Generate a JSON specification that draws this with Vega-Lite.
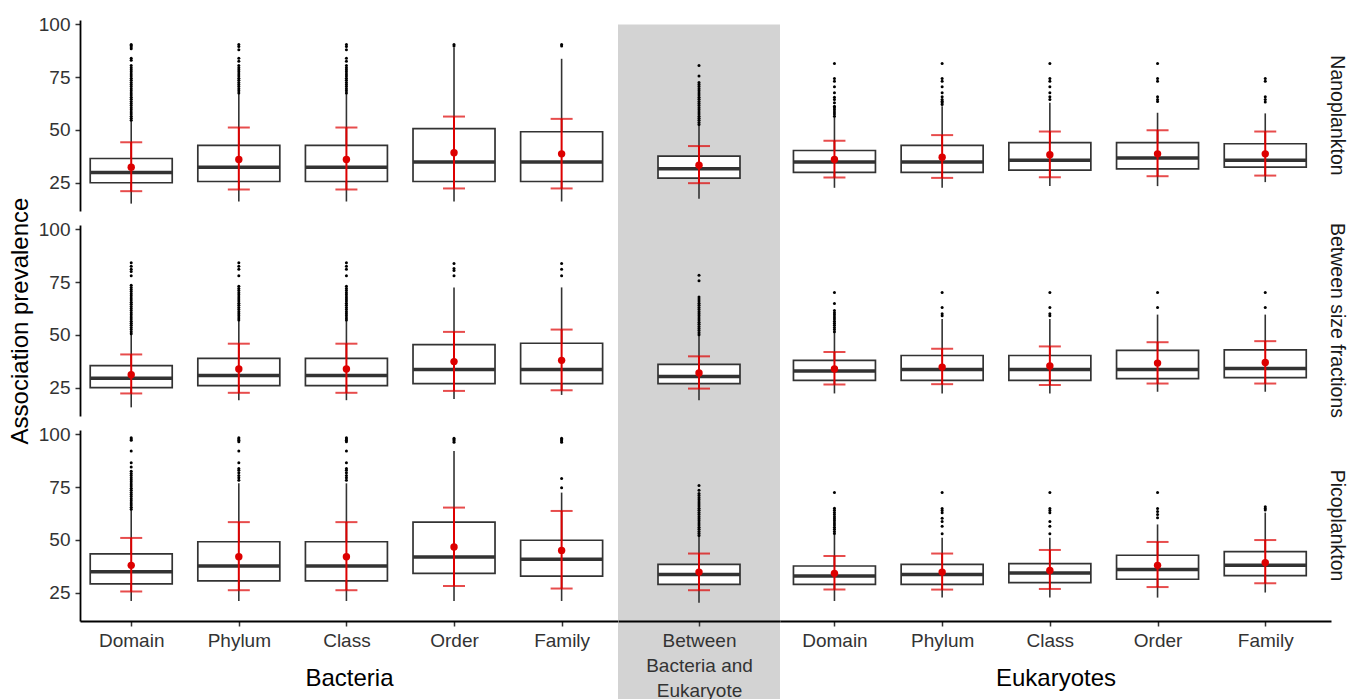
{
"$schema":"https://vega.github.io/schema/vega-lite/v6.json",
"background":"white",
"padding":{"left":8,"top":15,"right":0,"bottom":0},
"config":{
 "font":"Liberation Sans",
 "view":{"stroke":null},
 "axis":{"labelFont":"Liberation Sans","titleFont":"Liberation Sans","labelFontSize":19,"titleFontSize":24,"titleFontWeight":"normal","labelColor":"#333333","titleColor":"#000000","domainColor":"#000000","domainWidth":1.8,"tickColor":"#333333","tickWidth":1.5,"tickSize":5,"grid":false,"labelPadding":5},
 "title":{"font":"Liberation Sans","fontSize":19.5,"fontWeight":"normal","color":"#1a1a1a"}
},
"datasets":{
 "bN":[
  {"f":"Nanoplankton","g":"Bacteria","l":"Domain","lo":15.0,"q1":24.9,"med":29.8,"q3":36.4,"hi":54.1,"mean":32.3,"sdlo":20.9,"sdhi":44.1},
  {"f":"Nanoplankton","g":"Bacteria","l":"Phylum","lo":16.0,"q1":25.5,"med":32.3,"q3":42.6,"hi":67.3,"mean":35.9,"sdlo":21.7,"sdhi":51.1},
  {"f":"Nanoplankton","g":"Bacteria","l":"Class","lo":16.0,"q1":25.5,"med":32.3,"q3":42.6,"hi":67.3,"mean":35.9,"sdlo":21.7,"sdhi":51.1},
  {"f":"Nanoplankton","g":"Bacteria","l":"Order","lo":16.0,"q1":25.5,"med":34.7,"q3":50.6,"hi":89.0,"mean":39.1,"sdlo":22.2,"sdhi":56.3},
  {"f":"Nanoplankton","g":"Bacteria","l":"Family","lo":16.0,"q1":25.5,"med":34.7,"q3":49.1,"hi":83.7,"mean":38.6,"sdlo":22.2,"sdhi":55.2}
 ],
 "mN":[
  {"f":"Nanoplankton","g":"Between","l":"Between","lo":17.3,"q1":27.1,"med":31.5,"q3":37.5,"hi":52.4,"mean":33.2,"sdlo":24.7,"sdhi":42.3}
 ],
 "eN":[
  {"f":"Nanoplankton","g":"Eukaryotes","l":"Domain","lo":22.5,"q1":29.8,"med":34.8,"q3":40.2,"hi":56.0,"mean":35.9,"sdlo":27.4,"sdhi":44.8},
  {"f":"Nanoplankton","g":"Eukaryotes","l":"Phylum","lo":22.5,"q1":29.8,"med":34.8,"q3":42.6,"hi":61.2,"mean":37.0,"sdlo":27.2,"sdhi":47.5},
  {"f":"Nanoplankton","g":"Eukaryotes","l":"Class","lo":23.3,"q1":30.9,"med":35.6,"q3":43.9,"hi":62.8,"mean":38.2,"sdlo":27.5,"sdhi":49.2},
  {"f":"Nanoplankton","g":"Eukaryotes","l":"Order","lo":23.3,"q1":31.5,"med":36.6,"q3":43.9,"hi":58.1,"mean":38.6,"sdlo":28.0,"sdhi":49.8},
  {"f":"Nanoplankton","g":"Eukaryotes","l":"Family","lo":25.2,"q1":32.3,"med":35.6,"q3":43.4,"hi":57.8,"mean":38.6,"sdlo":28.3,"sdhi":49.2}
 ],
 "bS":[
  {"f":"Between size fractions","g":"Bacteria","l":"Domain","lo":15.6,"q1":25.0,"med":29.4,"q3":35.4,"hi":50.1,"mean":31.1,"sdlo":22.2,"sdhi":40.7},
  {"f":"Between size fractions","g":"Bacteria","l":"Phylum","lo":19.0,"q1":25.9,"med":30.7,"q3":38.8,"hi":56.7,"mean":33.8,"sdlo":22.5,"sdhi":45.8},
  {"f":"Between size fractions","g":"Bacteria","l":"Class","lo":19.0,"q1":25.9,"med":30.7,"q3":38.8,"hi":56.7,"mean":33.8,"sdlo":22.5,"sdhi":45.8},
  {"f":"Between size fractions","g":"Bacteria","l":"Order","lo":19.6,"q1":26.9,"med":33.5,"q3":45.4,"hi":72.5,"mean":37.3,"sdlo":23.4,"sdhi":51.4},
  {"f":"Between size fractions","g":"Bacteria","l":"Family","lo":21.5,"q1":26.9,"med":33.5,"q3":46.0,"hi":72.5,"mean":37.9,"sdlo":23.7,"sdhi":52.5}
 ],
 "mS":[
  {"f":"Between size fractions","g":"Between","l":"Between","lo":19.0,"q1":26.9,"med":30.2,"q3":36.0,"hi":49.7,"mean":31.9,"sdlo":24.5,"sdhi":39.8}
 ],
 "eS":[
  {"f":"Between size fractions","g":"Eukaryotes","l":"Domain","lo":22.2,"q1":28.4,"med":32.8,"q3":37.9,"hi":51.2,"mean":33.8,"sdlo":26.4,"sdhi":41.8},
  {"f":"Between size fractions","g":"Eukaryotes","l":"Phylum","lo":22.2,"q1":28.4,"med":33.6,"q3":40.2,"hi":57.5,"mean":34.7,"sdlo":26.6,"sdhi":43.4},
  {"f":"Between size fractions","g":"Eukaryotes","l":"Class","lo":22.2,"q1":28.4,"med":33.6,"q3":40.2,"hi":57.5,"mean":35.2,"sdlo":26.2,"sdhi":44.5},
  {"f":"Between size fractions","g":"Eukaryotes","l":"Order","lo":23.0,"q1":29.2,"med":33.6,"q3":42.6,"hi":59.6,"mean":36.6,"sdlo":26.9,"sdhi":46.5},
  {"f":"Between size fractions","g":"Eukaryotes","l":"Family","lo":23.0,"q1":29.7,"med":34.0,"q3":42.9,"hi":59.6,"mean":36.9,"sdlo":26.9,"sdhi":47.0}
 ],
 "bP":[
  {"f":"Picoplankton","g":"Bacteria","l":"Domain","lo":21.0,"q1":29.1,"med":34.9,"q3":43.3,"hi":64.1,"mean":37.9,"sdlo":25.5,"sdhi":50.9},
  {"f":"Picoplankton","g":"Bacteria","l":"Phylum","lo":21.0,"q1":30.5,"med":37.6,"q3":49.1,"hi":76.8,"mean":42.0,"sdlo":26.1,"sdhi":58.4},
  {"f":"Picoplankton","g":"Bacteria","l":"Class","lo":21.0,"q1":30.5,"med":37.6,"q3":49.1,"hi":76.8,"mean":42.0,"sdlo":26.1,"sdhi":58.4},
  {"f":"Picoplankton","g":"Bacteria","l":"Order","lo":21.0,"q1":34.1,"med":41.9,"q3":58.4,"hi":92.1,"mean":46.6,"sdlo":28.1,"sdhi":65.3},
  {"f":"Picoplankton","g":"Bacteria","l":"Family","lo":21.0,"q1":32.8,"med":40.8,"q3":49.8,"hi":72.4,"mean":45.0,"sdlo":26.9,"sdhi":63.7}
 ],
 "mP":[
  {"f":"Picoplankton","g":"Between","l":"Between","lo":20.2,"q1":28.9,"med":33.6,"q3":38.4,"hi":51.8,"mean":34.7,"sdlo":26.1,"sdhi":43.5}
 ],
 "eP":[
  {"f":"Picoplankton","g":"Eukaryotes","l":"Domain","lo":21.0,"q1":28.9,"med":32.8,"q3":37.6,"hi":52.6,"mean":34.1,"sdlo":26.5,"sdhi":42.3},
  {"f":"Picoplankton","g":"Eukaryotes","l":"Phylum","lo":22.6,"q1":28.9,"med":33.5,"q3":38.4,"hi":51.0,"mean":34.7,"sdlo":26.4,"sdhi":43.5},
  {"f":"Picoplankton","g":"Eukaryotes","l":"Class","lo":22.6,"q1":29.7,"med":34.3,"q3":38.7,"hi":51.0,"mean":35.5,"sdlo":26.7,"sdhi":45.2},
  {"f":"Picoplankton","g":"Eukaryotes","l":"Order","lo":22.6,"q1":31.3,"med":35.9,"q3":42.7,"hi":57.3,"mean":37.9,"sdlo":27.6,"sdhi":49.0},
  {"f":"Picoplankton","g":"Eukaryotes","l":"Family","lo":25.0,"q1":33.0,"med":37.9,"q3":44.4,"hi":62.9,"mean":39.2,"sdlo":29.4,"sdhi":49.9}
 ],
 "obN":[
  {"l":"Domain","v":54.5},{"l":"Domain","v":55.5},{"l":"Domain","v":56.5},{"l":"Domain","v":57.5},{"l":"Domain","v":58.5},{"l":"Domain","v":59.5},{"l":"Domain","v":60.5},{"l":"Domain","v":61.5},{"l":"Domain","v":62.5},{"l":"Domain","v":63.5},{"l":"Domain","v":64.5},{"l":"Domain","v":65.5},{"l":"Domain","v":66.5},{"l":"Domain","v":67.5},{"l":"Domain","v":68.5},{"l":"Domain","v":69.5},{"l":"Domain","v":70.5},{"l":"Domain","v":71.5},{"l":"Domain","v":72.5},{"l":"Domain","v":73.5},{"l":"Domain","v":74.5},{"l":"Domain","v":75.5},{"l":"Domain","v":76.5},{"l":"Domain","v":77.5},{"l":"Domain","v":78.5},{"l":"Domain","v":79.5},{"l":"Domain","v":80.5},{"l":"Domain","v":83},{"l":"Domain","v":84},{"l":"Domain","v":88.5},{"l":"Domain","v":89.3},{"l":"Domain","v":90},{"l":"Domain","v":90.5},
  {"l":"Phylum","v":67.5},{"l":"Phylum","v":68.5},{"l":"Phylum","v":69.5},{"l":"Phylum","v":70.5},{"l":"Phylum","v":71.5},{"l":"Phylum","v":72.5},{"l":"Phylum","v":73.5},{"l":"Phylum","v":74.5},{"l":"Phylum","v":75.5},{"l":"Phylum","v":76.5},{"l":"Phylum","v":77.5},{"l":"Phylum","v":78.5},{"l":"Phylum","v":79.5},{"l":"Phylum","v":80.5},{"l":"Phylum","v":82.5},{"l":"Phylum","v":84},{"l":"Phylum","v":88},{"l":"Phylum","v":89.5},{"l":"Phylum","v":90.5},
  {"l":"Class","v":67.5},{"l":"Class","v":68.5},{"l":"Class","v":69.5},{"l":"Class","v":70.5},{"l":"Class","v":71.5},{"l":"Class","v":72.5},{"l":"Class","v":73.5},{"l":"Class","v":74.5},{"l":"Class","v":75.5},{"l":"Class","v":76.5},{"l":"Class","v":77.5},{"l":"Class","v":78.5},{"l":"Class","v":79.5},{"l":"Class","v":80.5},{"l":"Class","v":82.5},{"l":"Class","v":84},{"l":"Class","v":88},{"l":"Class","v":89.5},{"l":"Class","v":90.5},
  {"l":"Order","v":89.8},{"l":"Order","v":90.5},
  {"l":"Family","v":89.8},{"l":"Family","v":90.5}
 ],
 "omN":[
  {"l":"Between","v":52.5},{"l":"Between","v":53.5},{"l":"Between","v":54.5},{"l":"Between","v":55.5},{"l":"Between","v":56.5},{"l":"Between","v":57.5},{"l":"Between","v":58.5},{"l":"Between","v":59.5},{"l":"Between","v":60.5},{"l":"Between","v":61.5},{"l":"Between","v":62.5},{"l":"Between","v":63.5},{"l":"Between","v":64.5},{"l":"Between","v":65.5},{"l":"Between","v":66.5},{"l":"Between","v":67.5},{"l":"Between","v":68.5},{"l":"Between","v":69.5},{"l":"Between","v":70.5},{"l":"Between","v":71.5},{"l":"Between","v":72.5},{"l":"Between","v":75.5},{"l":"Between","v":80.5}
 ],
 "oeN":[
  {"l":"Domain","v":56.5},{"l":"Domain","v":57.5},{"l":"Domain","v":58.5},{"l":"Domain","v":59.5},{"l":"Domain","v":60.5},{"l":"Domain","v":61.2},{"l":"Domain","v":62.8},{"l":"Domain","v":64.4},{"l":"Domain","v":65.5},{"l":"Domain","v":67.6},{"l":"Domain","v":70.4},{"l":"Domain","v":73.1},{"l":"Domain","v":74.4},{"l":"Domain","v":81.5},
  {"l":"Phylum","v":62},{"l":"Phylum","v":62.8},{"l":"Phylum","v":63.6},{"l":"Phylum","v":64.4},{"l":"Phylum","v":65.7},{"l":"Phylum","v":67.6},{"l":"Phylum","v":70.4},{"l":"Phylum","v":73.1},{"l":"Phylum","v":74.4},{"l":"Phylum","v":81.5},
  {"l":"Class","v":64.4},{"l":"Class","v":65.7},{"l":"Class","v":67.6},{"l":"Class","v":70.4},{"l":"Class","v":73.1},{"l":"Class","v":74.4},{"l":"Class","v":81.5},
  {"l":"Order","v":63.5},{"l":"Order","v":64.4},{"l":"Order","v":65.7},{"l":"Order","v":73.1},{"l":"Order","v":74.4},{"l":"Order","v":81.5},
  {"l":"Family","v":63.2},{"l":"Family","v":64.4},{"l":"Family","v":65.7},{"l":"Family","v":73.1},{"l":"Family","v":74.4}
 ],
 "obS":[
  {"l":"Domain","v":50.5},{"l":"Domain","v":51.5},{"l":"Domain","v":52.5},{"l":"Domain","v":53.5},{"l":"Domain","v":54.5},{"l":"Domain","v":55.5},{"l":"Domain","v":56.5},{"l":"Domain","v":57.5},{"l":"Domain","v":58.5},{"l":"Domain","v":59.5},{"l":"Domain","v":60.5},{"l":"Domain","v":61.5},{"l":"Domain","v":62.5},{"l":"Domain","v":63.5},{"l":"Domain","v":64.5},{"l":"Domain","v":65.5},{"l":"Domain","v":66.5},{"l":"Domain","v":67.5},{"l":"Domain","v":68.5},{"l":"Domain","v":69.5},{"l":"Domain","v":70.5},{"l":"Domain","v":71.5},{"l":"Domain","v":72.5},{"l":"Domain","v":73.5},{"l":"Domain","v":78},{"l":"Domain","v":80},{"l":"Domain","v":81.1},{"l":"Domain","v":82.5},{"l":"Domain","v":84.2},
  {"l":"Phylum","v":57},{"l":"Phylum","v":58},{"l":"Phylum","v":59},{"l":"Phylum","v":60},{"l":"Phylum","v":61},{"l":"Phylum","v":62},{"l":"Phylum","v":63},{"l":"Phylum","v":64},{"l":"Phylum","v":65},{"l":"Phylum","v":66},{"l":"Phylum","v":67},{"l":"Phylum","v":68},{"l":"Phylum","v":69},{"l":"Phylum","v":70},{"l":"Phylum","v":71},{"l":"Phylum","v":72},{"l":"Phylum","v":73},{"l":"Phylum","v":78},{"l":"Phylum","v":81.1},{"l":"Phylum","v":82.5},{"l":"Phylum","v":84.2},
  {"l":"Class","v":57},{"l":"Class","v":58},{"l":"Class","v":59},{"l":"Class","v":60},{"l":"Class","v":61},{"l":"Class","v":62},{"l":"Class","v":63},{"l":"Class","v":64},{"l":"Class","v":65},{"l":"Class","v":66},{"l":"Class","v":67},{"l":"Class","v":68},{"l":"Class","v":69},{"l":"Class","v":70},{"l":"Class","v":71},{"l":"Class","v":72},{"l":"Class","v":73},{"l":"Class","v":78},{"l":"Class","v":81.1},{"l":"Class","v":82.5},{"l":"Class","v":84.2},
  {"l":"Order","v":78},{"l":"Order","v":80.5},{"l":"Order","v":81.5},{"l":"Order","v":83.8},
  {"l":"Family","v":78},{"l":"Family","v":81.1},{"l":"Family","v":83.8}
 ],
 "omS":[
  {"l":"Between","v":50},{"l":"Between","v":51},{"l":"Between","v":52},{"l":"Between","v":53},{"l":"Between","v":54},{"l":"Between","v":55},{"l":"Between","v":56},{"l":"Between","v":57},{"l":"Between","v":58},{"l":"Between","v":59},{"l":"Between","v":60},{"l":"Between","v":61},{"l":"Between","v":62},{"l":"Between","v":63},{"l":"Between","v":64},{"l":"Between","v":65},{"l":"Between","v":66},{"l":"Between","v":67},{"l":"Between","v":68},{"l":"Between","v":75.6},{"l":"Between","v":78.3}
 ],
 "oeS":[
  {"l":"Domain","v":51.5},{"l":"Domain","v":52.5},{"l":"Domain","v":53.5},{"l":"Domain","v":54.5},{"l":"Domain","v":55.5},{"l":"Domain","v":56.5},{"l":"Domain","v":57.5},{"l":"Domain","v":58.5},{"l":"Domain","v":59.5},{"l":"Domain","v":60.5},{"l":"Domain","v":61.5},{"l":"Domain","v":64.9},{"l":"Domain","v":70.1},
  {"l":"Phylum","v":59.1},{"l":"Phylum","v":60},{"l":"Phylum","v":63},{"l":"Phylum","v":70.1},
  {"l":"Class","v":59.1},{"l":"Class","v":60},{"l":"Class","v":63},{"l":"Class","v":70.1},
  {"l":"Order","v":63},{"l":"Order","v":70.1},
  {"l":"Family","v":63},{"l":"Family","v":70.1}
 ],
 "obP":[
  {"l":"Domain","v":64.5},{"l":"Domain","v":65.5},{"l":"Domain","v":66.5},{"l":"Domain","v":67.5},{"l":"Domain","v":68.5},{"l":"Domain","v":69.5},{"l":"Domain","v":70.5},{"l":"Domain","v":71.5},{"l":"Domain","v":72.5},{"l":"Domain","v":73.5},{"l":"Domain","v":74.5},{"l":"Domain","v":75.5},{"l":"Domain","v":76.5},{"l":"Domain","v":77.5},{"l":"Domain","v":78.5},{"l":"Domain","v":79.5},{"l":"Domain","v":80.5},{"l":"Domain","v":81.5},{"l":"Domain","v":82.5},{"l":"Domain","v":84.5},{"l":"Domain","v":86.6},{"l":"Domain","v":92.1},{"l":"Domain","v":97.2},{"l":"Domain","v":97.8},{"l":"Domain","v":98.4},
  {"l":"Phylum","v":78.3},{"l":"Phylum","v":79.5},{"l":"Phylum","v":80.5},{"l":"Phylum","v":81.8},{"l":"Phylum","v":83},{"l":"Phylum","v":83.8},{"l":"Phylum","v":86.6},{"l":"Phylum","v":92.1},{"l":"Phylum","v":96.5},{"l":"Phylum","v":97.2},{"l":"Phylum","v":97.8},{"l":"Phylum","v":98.4},
  {"l":"Class","v":78.3},{"l":"Class","v":79.5},{"l":"Class","v":80.5},{"l":"Class","v":81.8},{"l":"Class","v":83},{"l":"Class","v":83.8},{"l":"Class","v":86.6},{"l":"Class","v":92.1},{"l":"Class","v":96.5},{"l":"Class","v":97.2},{"l":"Class","v":97.8},{"l":"Class","v":98.4},
  {"l":"Order","v":96.3},{"l":"Order","v":97},{"l":"Order","v":97.6},{"l":"Order","v":98.2},
  {"l":"Family","v":74.7},{"l":"Family","v":79.1},{"l":"Family","v":96.3},{"l":"Family","v":97},{"l":"Family","v":97.6},{"l":"Family","v":98.2}
 ],
 "omP":[
  {"l":"Between","v":52},{"l":"Between","v":53},{"l":"Between","v":54},{"l":"Between","v":55},{"l":"Between","v":56},{"l":"Between","v":57},{"l":"Between","v":58},{"l":"Between","v":59},{"l":"Between","v":60},{"l":"Between","v":61},{"l":"Between","v":62},{"l":"Between","v":63},{"l":"Between","v":64},{"l":"Between","v":65},{"l":"Between","v":66},{"l":"Between","v":67},{"l":"Between","v":68},{"l":"Between","v":69},{"l":"Between","v":70},{"l":"Between","v":71},{"l":"Between","v":72},{"l":"Between","v":73.5},{"l":"Between","v":75.8}
 ],
 "oeP":[
  {"l":"Domain","v":53},{"l":"Domain","v":54},{"l":"Domain","v":55},{"l":"Domain","v":56},{"l":"Domain","v":57},{"l":"Domain","v":58},{"l":"Domain","v":59},{"l":"Domain","v":60},{"l":"Domain","v":61},{"l":"Domain","v":62},{"l":"Domain","v":63},{"l":"Domain","v":64},{"l":"Domain","v":65},{"l":"Domain","v":72.4},
  {"l":"Phylum","v":52.9},{"l":"Phylum","v":56.5},{"l":"Phylum","v":58.7},{"l":"Phylum","v":60.2},{"l":"Phylum","v":62.9},{"l":"Phylum","v":63.9},{"l":"Phylum","v":64.9},{"l":"Phylum","v":72.4},
  {"l":"Class","v":52.9},{"l":"Class","v":56.5},{"l":"Class","v":58.7},{"l":"Class","v":62.9},{"l":"Class","v":63.9},{"l":"Class","v":64.9},{"l":"Class","v":72.4},
  {"l":"Order","v":60.5},{"l":"Order","v":62},{"l":"Order","v":63.5},{"l":"Order","v":64.9},{"l":"Order","v":72.4},
  {"l":"Family","v":64.1},{"l":"Family","v":64.9},{"l":"Family","v":65.7}
 ]
},
"columns":3,
"spacing":{"row":14,"column":0},
"bounds":"flush",
"align":"each",
"resolve":{"scale":{"x":"independent","y":"independent"}},
"concat":[
 {"width":538,"height":191,"data":{"name":"bN"},
  "encoding":{"x":{"field":"l","type":"nominal","scale":{"type":"point","domain":["Domain","Phylum","Class","Order","Family"],"padding":0.5,"align":0.476},"axis":null}},
  "layer":[
   {"mark":{"type":"rule","color":"#333333","strokeWidth":1.6},"encoding":{"y":{"field":"lo","type":"quantitative","title":null,"scale":{"domain":[11.5,102.1],"nice":false,"zero":false},"axis":{"values":[25,50,75,100],"title":null}},"y2":{"field":"hi"}}},
   {"data":{"name":"obN"},"mark":{"type":"circle","color":"#000000","size":9,"opacity":1},"encoding":{"y":{"field":"v","type":"quantitative","title":null,"scale":{"domain":[11.5,102.1],"nice":false,"zero":false}}}},
   {"mark":{"type":"bar","fill":"#ffffff","stroke":"#333333","strokeWidth":1.7,"size":82,"opacity":1},"encoding":{"y":{"field":"q1","type":"quantitative","title":null,"scale":{"domain":[11.5,102.1],"nice":false,"zero":false}},"y2":{"field":"q3"}}},
   {"mark":{"type":"tick","color":"#333333","thickness":3.5,"size":82,"opacity":1},"encoding":{"y":{"field":"med","type":"quantitative","title":null,"scale":{"domain":[11.5,102.1],"nice":false,"zero":false}}}},
   {"mark":{"type":"errorbar","color":"#dd0000","ticks":true,"size":22,"thickness":2},"encoding":{"y":{"field":"sdlo","type":"quantitative","title":null,"scale":{"domain":[11.5,102.1],"nice":false,"zero":false}},"y2":{"field":"sdhi"}}},
   {"mark":{"type":"circle","color":"#dd0000","size":55,"opacity":1},"encoding":{"y":{"field":"mean","type":"quantitative","title":null,"scale":{"domain":[11.5,102.1],"nice":false,"zero":false}}}}
  ]},
 {"width":162,"height":191,"data":{"name":"mN"},
  "layer":[
   {"data":{"values":[{"band":"Between Bacteria and Eukaryote"}]},"mark":{"type":"rect","color":"#d3d3d3","clip":false},"encoding":{"y":{"datum":100,"type":"quantitative","scale":{"domain":[11.5,102.1],"nice":false,"zero":false},"axis":null},"y2":{"datum":2}}},
   {"mark":{"type":"rule","color":"#333333","strokeWidth":1.6},"encoding":{"x":{"field":"l","type":"nominal","scale":{"type":"point","domain":["Between"],"padding":0.5},"axis":null},"y":{"field":"lo","type":"quantitative","scale":{"domain":[11.5,102.1],"nice":false,"zero":false},"axis":null},"y2":{"field":"hi"}}},
   {"data":{"name":"omN"},"mark":{"type":"circle","color":"#000000","size":9,"opacity":1},"encoding":{"x":{"field":"l","type":"nominal","scale":{"type":"point","domain":["Between"],"padding":0.5},"axis":null},"y":{"field":"v","type":"quantitative","scale":{"domain":[11.5,102.1],"nice":false,"zero":false},"axis":null}}},
   {"mark":{"type":"bar","fill":"#ffffff","stroke":"#333333","strokeWidth":1.7,"size":82,"opacity":1},"encoding":{"x":{"field":"l","type":"nominal","scale":{"type":"point","domain":["Between"],"padding":0.5},"axis":null},"y":{"field":"q1","type":"quantitative","scale":{"domain":[11.5,102.1],"nice":false,"zero":false},"axis":null},"y2":{"field":"q3"}}},
   {"mark":{"type":"tick","color":"#333333","thickness":3.5,"size":82,"opacity":1},"encoding":{"x":{"field":"l","type":"nominal","scale":{"type":"point","domain":["Between"],"padding":0.5},"axis":null},"y":{"field":"med","type":"quantitative","scale":{"domain":[11.5,102.1],"nice":false,"zero":false},"axis":null}}},
   {"mark":{"type":"errorbar","color":"#dd0000","ticks":true,"size":22,"thickness":2},"encoding":{"x":{"field":"l","type":"nominal","scale":{"type":"point","domain":["Between"],"padding":0.5},"axis":null},"y":{"field":"sdlo","type":"quantitative","scale":{"domain":[11.5,102.1],"nice":false,"zero":false},"axis":null},"y2":{"field":"sdhi"}}},
   {"mark":{"type":"circle","color":"#dd0000","size":55,"opacity":1},"encoding":{"x":{"field":"l","type":"nominal","scale":{"type":"point","domain":["Between"],"padding":0.5},"axis":null},"y":{"field":"mean","type":"quantitative","scale":{"domain":[11.5,102.1],"nice":false,"zero":false},"axis":null}}}
  ]},
 {"width":551,"height":191,"data":{"name":"eN"},
  "title":{"text":"Nanoplankton","orient":"right","anchor":"middle","offset":-5},
  "encoding":{"x":{"field":"l","type":"nominal","scale":{"type":"point","domain":["Domain","Phylum","Class","Order","Family"],"padding":0.558,"align":0.453},"axis":null}},
  "layer":[
   {"mark":{"type":"rule","color":"#333333","strokeWidth":1.6},"encoding":{"y":{"field":"lo","type":"quantitative","scale":{"domain":[11.5,102.1],"nice":false,"zero":false},"axis":null},"y2":{"field":"hi"}}},
   {"data":{"name":"oeN"},"mark":{"type":"circle","color":"#000000","size":9,"opacity":1},"encoding":{"y":{"field":"v","type":"quantitative","scale":{"domain":[11.5,102.1],"nice":false,"zero":false},"axis":null}}},
   {"mark":{"type":"bar","fill":"#ffffff","stroke":"#333333","strokeWidth":1.7,"size":82,"opacity":1},"encoding":{"y":{"field":"q1","type":"quantitative","scale":{"domain":[11.5,102.1],"nice":false,"zero":false},"axis":null},"y2":{"field":"q3"}}},
   {"mark":{"type":"tick","color":"#333333","thickness":3.5,"size":82,"opacity":1},"encoding":{"y":{"field":"med","type":"quantitative","scale":{"domain":[11.5,102.1],"nice":false,"zero":false},"axis":null}}},
   {"mark":{"type":"errorbar","color":"#dd0000","ticks":true,"size":22,"thickness":2},"encoding":{"y":{"field":"sdlo","type":"quantitative","scale":{"domain":[11.5,102.1],"nice":false,"zero":false},"axis":null},"y2":{"field":"sdhi"}}},
   {"mark":{"type":"circle","color":"#dd0000","size":55,"opacity":1},"encoding":{"y":{"field":"mean","type":"quantitative","scale":{"domain":[11.5,102.1],"nice":false,"zero":false},"axis":null}}}
  ]},
 {"width":538,"height":191,"data":{"name":"bS"},
  "encoding":{"x":{"field":"l","type":"nominal","scale":{"type":"point","domain":["Domain","Phylum","Class","Order","Family"],"padding":0.5,"align":0.476},"axis":null}},
  "layer":[
   {"mark":{"type":"rule","color":"#333333","strokeWidth":1.6},"encoding":{"y":{"field":"lo","type":"quantitative","title":"Association prevalence","scale":{"domain":[11.5,102.1],"nice":false,"zero":false},"axis":{"values":[25,50,75,100],"title":"Association prevalence","titlePadding":6}},"y2":{"field":"hi"}}},
   {"data":{"name":"obS"},"mark":{"type":"circle","color":"#000000","size":9,"opacity":1},"encoding":{"y":{"field":"v","type":"quantitative","title":"Association prevalence","scale":{"domain":[11.5,102.1],"nice":false,"zero":false}}}},
   {"mark":{"type":"bar","fill":"#ffffff","stroke":"#333333","strokeWidth":1.7,"size":82,"opacity":1},"encoding":{"y":{"field":"q1","type":"quantitative","title":"Association prevalence","scale":{"domain":[11.5,102.1],"nice":false,"zero":false}},"y2":{"field":"q3"}}},
   {"mark":{"type":"tick","color":"#333333","thickness":3.5,"size":82,"opacity":1},"encoding":{"y":{"field":"med","type":"quantitative","title":"Association prevalence","scale":{"domain":[11.5,102.1],"nice":false,"zero":false}}}},
   {"mark":{"type":"errorbar","color":"#dd0000","ticks":true,"size":22,"thickness":2},"encoding":{"y":{"field":"sdlo","type":"quantitative","title":"Association prevalence","scale":{"domain":[11.5,102.1],"nice":false,"zero":false}},"y2":{"field":"sdhi"}}},
   {"mark":{"type":"circle","color":"#dd0000","size":55,"opacity":1},"encoding":{"y":{"field":"mean","type":"quantitative","title":"Association prevalence","scale":{"domain":[11.5,102.1],"nice":false,"zero":false}}}}
  ]},
 {"width":162,"height":191,"data":{"name":"mS"},
  "layer":[
   {"data":{"values":[{"band":"Between Bacteria and Eukaryote"}]},"mark":{"type":"rect","color":"#d3d3d3","clip":false},"encoding":{"y":{"datum":100,"type":"quantitative","scale":{"domain":[11.5,102.1],"nice":false,"zero":false},"axis":null},"y2":{"datum":2}}},
   {"mark":{"type":"rule","color":"#333333","strokeWidth":1.6},"encoding":{"x":{"field":"l","type":"nominal","scale":{"type":"point","domain":["Between"],"padding":0.5},"axis":null},"y":{"field":"lo","type":"quantitative","scale":{"domain":[11.5,102.1],"nice":false,"zero":false},"axis":null},"y2":{"field":"hi"}}},
   {"data":{"name":"omS"},"mark":{"type":"circle","color":"#000000","size":9,"opacity":1},"encoding":{"x":{"field":"l","type":"nominal","scale":{"type":"point","domain":["Between"],"padding":0.5},"axis":null},"y":{"field":"v","type":"quantitative","scale":{"domain":[11.5,102.1],"nice":false,"zero":false},"axis":null}}},
   {"mark":{"type":"bar","fill":"#ffffff","stroke":"#333333","strokeWidth":1.7,"size":82,"opacity":1},"encoding":{"x":{"field":"l","type":"nominal","scale":{"type":"point","domain":["Between"],"padding":0.5},"axis":null},"y":{"field":"q1","type":"quantitative","scale":{"domain":[11.5,102.1],"nice":false,"zero":false},"axis":null},"y2":{"field":"q3"}}},
   {"mark":{"type":"tick","color":"#333333","thickness":3.5,"size":82,"opacity":1},"encoding":{"x":{"field":"l","type":"nominal","scale":{"type":"point","domain":["Between"],"padding":0.5},"axis":null},"y":{"field":"med","type":"quantitative","scale":{"domain":[11.5,102.1],"nice":false,"zero":false},"axis":null}}},
   {"mark":{"type":"errorbar","color":"#dd0000","ticks":true,"size":22,"thickness":2},"encoding":{"x":{"field":"l","type":"nominal","scale":{"type":"point","domain":["Between"],"padding":0.5},"axis":null},"y":{"field":"sdlo","type":"quantitative","scale":{"domain":[11.5,102.1],"nice":false,"zero":false},"axis":null},"y2":{"field":"sdhi"}}},
   {"mark":{"type":"circle","color":"#dd0000","size":55,"opacity":1},"encoding":{"x":{"field":"l","type":"nominal","scale":{"type":"point","domain":["Between"],"padding":0.5},"axis":null},"y":{"field":"mean","type":"quantitative","scale":{"domain":[11.5,102.1],"nice":false,"zero":false},"axis":null}}}
  ]},
 {"width":551,"height":191,"data":{"name":"eS"},
  "title":{"text":"Between size fractions","orient":"right","anchor":"middle","offset":-5},
  "encoding":{"x":{"field":"l","type":"nominal","scale":{"type":"point","domain":["Domain","Phylum","Class","Order","Family"],"padding":0.558,"align":0.453},"axis":null}},
  "layer":[
   {"mark":{"type":"rule","color":"#333333","strokeWidth":1.6},"encoding":{"y":{"field":"lo","type":"quantitative","scale":{"domain":[11.5,102.1],"nice":false,"zero":false},"axis":null},"y2":{"field":"hi"}}},
   {"data":{"name":"oeS"},"mark":{"type":"circle","color":"#000000","size":9,"opacity":1},"encoding":{"y":{"field":"v","type":"quantitative","scale":{"domain":[11.5,102.1],"nice":false,"zero":false},"axis":null}}},
   {"mark":{"type":"bar","fill":"#ffffff","stroke":"#333333","strokeWidth":1.7,"size":82,"opacity":1},"encoding":{"y":{"field":"q1","type":"quantitative","scale":{"domain":[11.5,102.1],"nice":false,"zero":false},"axis":null},"y2":{"field":"q3"}}},
   {"mark":{"type":"tick","color":"#333333","thickness":3.5,"size":82,"opacity":1},"encoding":{"y":{"field":"med","type":"quantitative","scale":{"domain":[11.5,102.1],"nice":false,"zero":false},"axis":null}}},
   {"mark":{"type":"errorbar","color":"#dd0000","ticks":true,"size":22,"thickness":2},"encoding":{"y":{"field":"sdlo","type":"quantitative","scale":{"domain":[11.5,102.1],"nice":false,"zero":false},"axis":null},"y2":{"field":"sdhi"}}},
   {"mark":{"type":"circle","color":"#dd0000","size":55,"opacity":1},"encoding":{"y":{"field":"mean","type":"quantitative","scale":{"domain":[11.5,102.1],"nice":false,"zero":false},"axis":null}}}
  ]},
 {"width":538,"height":191,"data":{"name":"bP"},
  "encoding":{"x":{"field":"l","type":"nominal","scale":{"type":"point","domain":["Domain","Phylum","Class","Order","Family"],"padding":0.5,"align":0.476},"axis":{"title":"Bacteria","labelAngle":0,"titlePadding":16}}},
  "layer":[
   {"mark":{"type":"rule","color":"#333333","strokeWidth":1.6},"encoding":{"y":{"field":"lo","type":"quantitative","title":null,"scale":{"domain":[11.5,102.1],"nice":false,"zero":false},"axis":{"values":[25,50,75,100],"title":null}},"y2":{"field":"hi"}}},
   {"data":{"name":"obP"},"mark":{"type":"circle","color":"#000000","size":9,"opacity":1},"encoding":{"y":{"field":"v","type":"quantitative","title":null,"scale":{"domain":[11.5,102.1],"nice":false,"zero":false}}}},
   {"mark":{"type":"bar","fill":"#ffffff","stroke":"#333333","strokeWidth":1.7,"size":82,"opacity":1},"encoding":{"y":{"field":"q1","type":"quantitative","title":null,"scale":{"domain":[11.5,102.1],"nice":false,"zero":false}},"y2":{"field":"q3"}}},
   {"mark":{"type":"tick","color":"#333333","thickness":3.5,"size":82,"opacity":1},"encoding":{"y":{"field":"med","type":"quantitative","title":null,"scale":{"domain":[11.5,102.1],"nice":false,"zero":false}}}},
   {"mark":{"type":"errorbar","color":"#dd0000","ticks":true,"size":22,"thickness":2},"encoding":{"y":{"field":"sdlo","type":"quantitative","title":null,"scale":{"domain":[11.5,102.1],"nice":false,"zero":false}},"y2":{"field":"sdhi"}}},
   {"mark":{"type":"circle","color":"#dd0000","size":55,"opacity":1},"encoding":{"y":{"field":"mean","type":"quantitative","title":null,"scale":{"domain":[11.5,102.1],"nice":false,"zero":false}}}}
  ]},
 {"width":162,"height":191,"data":{"name":"mP"},
  "layer":[
   {"data":{"values":[{"band":"Between Bacteria and Eukaryote"}]},"mark":{"type":"rect","color":"#d3d3d3","clip":false},"encoding":{"y":{"datum":100,"type":"quantitative","scale":{"domain":[11.5,102.1],"nice":false,"zero":false},"axis":null},"y2":{"datum":-30}}},
   {"mark":{"type":"rule","color":"#333333","strokeWidth":1.6},"encoding":{"x":{"field":"l","type":"nominal","title":null,"scale":{"type":"point","domain":["Between"],"padding":0.5},"axis":{"title":null,"labelAngle":0,"zindex":1,"labelExpr":"['Between', 'Bacteria and', 'Eukaryote']","labelLineHeight":25}},"y":{"field":"lo","type":"quantitative","scale":{"domain":[11.5,102.1],"nice":false,"zero":false},"axis":null},"y2":{"field":"hi"}}},
   {"data":{"name":"omP"},"mark":{"type":"circle","color":"#000000","size":9,"opacity":1},"encoding":{"x":{"field":"l","type":"nominal","title":null,"scale":{"type":"point","domain":["Between"],"padding":0.5}},"y":{"field":"v","type":"quantitative","scale":{"domain":[11.5,102.1],"nice":false,"zero":false},"axis":null}}},
   {"mark":{"type":"bar","fill":"#ffffff","stroke":"#333333","strokeWidth":1.7,"size":82,"opacity":1},"encoding":{"x":{"field":"l","type":"nominal","title":null,"scale":{"type":"point","domain":["Between"],"padding":0.5}},"y":{"field":"q1","type":"quantitative","scale":{"domain":[11.5,102.1],"nice":false,"zero":false},"axis":null},"y2":{"field":"q3"}}},
   {"mark":{"type":"tick","color":"#333333","thickness":3.5,"size":82,"opacity":1},"encoding":{"x":{"field":"l","type":"nominal","title":null,"scale":{"type":"point","domain":["Between"],"padding":0.5}},"y":{"field":"med","type":"quantitative","scale":{"domain":[11.5,102.1],"nice":false,"zero":false},"axis":null}}},
   {"mark":{"type":"errorbar","color":"#dd0000","ticks":true,"size":22,"thickness":2},"encoding":{"x":{"field":"l","type":"nominal","title":null,"scale":{"type":"point","domain":["Between"],"padding":0.5}},"y":{"field":"sdlo","type":"quantitative","scale":{"domain":[11.5,102.1],"nice":false,"zero":false},"axis":null},"y2":{"field":"sdhi"}}},
   {"mark":{"type":"circle","color":"#dd0000","size":55,"opacity":1},"encoding":{"x":{"field":"l","type":"nominal","title":null,"scale":{"type":"point","domain":["Between"],"padding":0.5}},"y":{"field":"mean","type":"quantitative","scale":{"domain":[11.5,102.1],"nice":false,"zero":false},"axis":null}}}
  ]},
 {"width":551,"height":191,"data":{"name":"eP"},
  "title":{"text":"Picoplankton","orient":"right","anchor":"middle","offset":-5},
  "encoding":{"x":{"field":"l","type":"nominal","scale":{"type":"point","domain":["Domain","Phylum","Class","Order","Family"],"padding":0.558,"align":0.453},"axis":{"title":"Eukaryotes","labelAngle":0,"titlePadding":16}}},
  "layer":[
   {"mark":{"type":"rule","color":"#333333","strokeWidth":1.6},"encoding":{"y":{"field":"lo","type":"quantitative","scale":{"domain":[11.5,102.1],"nice":false,"zero":false},"axis":null},"y2":{"field":"hi"}}},
   {"data":{"name":"oeP"},"mark":{"type":"circle","color":"#000000","size":9,"opacity":1},"encoding":{"y":{"field":"v","type":"quantitative","scale":{"domain":[11.5,102.1],"nice":false,"zero":false},"axis":null}}},
   {"mark":{"type":"bar","fill":"#ffffff","stroke":"#333333","strokeWidth":1.7,"size":82,"opacity":1},"encoding":{"y":{"field":"q1","type":"quantitative","scale":{"domain":[11.5,102.1],"nice":false,"zero":false},"axis":null},"y2":{"field":"q3"}}},
   {"mark":{"type":"tick","color":"#333333","thickness":3.5,"size":82,"opacity":1},"encoding":{"y":{"field":"med","type":"quantitative","scale":{"domain":[11.5,102.1],"nice":false,"zero":false},"axis":null}}},
   {"mark":{"type":"errorbar","color":"#dd0000","ticks":true,"size":22,"thickness":2},"encoding":{"y":{"field":"sdlo","type":"quantitative","scale":{"domain":[11.5,102.1],"nice":false,"zero":false},"axis":null},"y2":{"field":"sdhi"}}},
   {"mark":{"type":"circle","color":"#dd0000","size":55,"opacity":1},"encoding":{"y":{"field":"mean","type":"quantitative","scale":{"domain":[11.5,102.1],"nice":false,"zero":false},"axis":null}}}
  ]}
]
}
